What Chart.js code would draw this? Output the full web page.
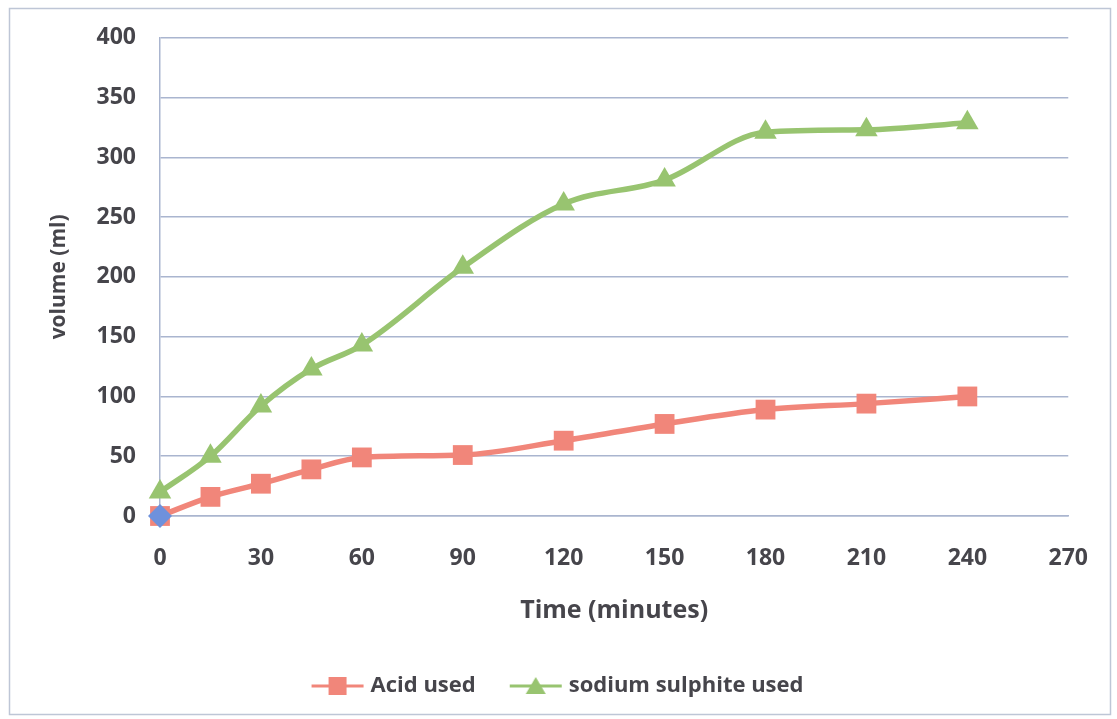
<!DOCTYPE html>
<html>
<head>
<meta charset="utf-8">
<script src="https://cdn.jsdelivr.net/npm/chart.js@4.4.1/dist/chart.umd.min.js"></script>
<style>
  html, body { margin: 0; padding: 0; background: #fff; }
  #wrap { width: 1117px; height: 719px; }
</style>
</head>
<body>
<div id="wrap"><canvas id="myChart" width="1117" height="719"></canvas></div>
<script>
// time in minutes and volumes (ml)
var times = [0, 15, 30, 45, 60, 90, 120, 150, 180, 210, 240];
var acidUsed = [0, 16, 27, 39, 49, 51, 63, 77, 89, 94, 100];
var sulphiteUsed = [20, 50, 92, 123, 143, 208, 261, 281, 321, 323, 329];
var originX = [0];
var originY = [0];
var xTicks = [0, 30, 60, 90, 120, 150, 180, 210, 240, 270];

var acidColor = 'rgb(241, 134, 122)';
var greenColor = 'rgb(152, 196, 112)';
var gridColor = 'rgb(170, 181, 207)';
var textColor = '#46454b';
var fontName = "'Open Sans', Lato, sans-serif";

function toPoints(xs, ys) {
    return xs.map(function (x, i) { return { x: x, y: ys[i] }; });
}

// legend picture: line with marker, drawn on the right part of a wider canvas
function legendIcon(color, shape) {
    var c = document.createElement('canvas');
    c.width = 74; c.height = 22;
    var g = c.getContext('2d');
    var x0 = 20;
    g.strokeStyle = color;
    g.lineWidth = 3;
    g.beginPath(); g.moveTo(x0, 11); g.lineTo(x0 + 52, 11); g.stroke();
    g.fillStyle = color;
    if (shape === 'rect') {
        g.fillRect(x0 + 17, 2, 18, 18);
    } else {
        g.beginPath(); g.moveTo(x0 + 26, 2); g.lineTo(x0 + 36, 19); g.lineTo(x0 + 16, 19); g.closePath(); g.fill();
    }
    return c;
}

var data = {
    datasets: [{
        label: 'Acid used',
        data: toPoints(times, acidUsed),
        borderColor: acidColor,
        backgroundColor: acidColor,
        borderWidth: 5.5,
        showLine: true,
        clip: false,
        pointStyle: 'rect',
        pointRadius: 14,
        pointBorderWidth: 0,
        cubicInterpolationMode: 'monotone',
        legendIcon: legendIcon(acidColor, 'rect')
    }, {
        label: 'sodium sulphite used',
        data: toPoints(times, sulphiteUsed),
        borderColor: greenColor,
        backgroundColor: greenColor,
        borderWidth: 5.5,
        showLine: true,
        clip: false,
        pointStyle: 'triangle',
        pointRadius: 13,
        pointBorderWidth: 0,
        cubicInterpolationMode: 'monotone',
        legendIcon: legendIcon(greenColor, 'tri')
    }, {
        label: 'origin',
        data: toPoints(originX, originY),
        borderColor: 'rgb(110, 145, 220)',
        backgroundColor: 'rgb(110, 145, 220)',
        clip: false,
        order: -1,
        pointStyle: 'rectRot',
        pointRadius: 12,
        pointBorderWidth: 0,
        showLine: false
    }]
};

var framePlugin = {
    id: 'frame',
    beforeDraw: function (chart) {
        var ctx = chart.ctx;
        ctx.save();
        ctx.fillStyle = '#ffffff';
        ctx.fillRect(0, 0, chart.width, chart.height);
        ctx.strokeStyle = 'rgb(190, 198, 214)';
        ctx.lineWidth = 1.5;
        ctx.strokeRect(9.5, 8.5, 1101, 706);
        ctx.restore();
    }
};

var ctx = document.getElementById('myChart').getContext('2d');
var myChart = new Chart(ctx, {
    type: 'scatter',
    data: data,
    plugins: [framePlugin],
    options: {
        responsive: false,
        animation: false,
        layout: { padding: { left: 20, right: 36, top: 25, bottom: 12 } },
        plugins: {
            tooltip: { enabled: false },
            legend: {
                position: 'bottom',
                labels: {
                    font: { family: fontName, size: 22, weight: 'bold' },
                    color: textColor,
                    usePointStyle: true,
                    pointStyleWidth: 62,
                    padding: 20,
                    generateLabels: function (chart) {
                        return chart.data.datasets.slice(0, 2).map(function (ds, i) {
                            return {
                                text: ds.label,
                                pointStyle: ds.legendIcon,
                                fillStyle: ds.backgroundColor,
                                strokeStyle: ds.borderColor,
                                lineWidth: 0,
                                fontColor: textColor,
                                hidden: false,
                                datasetIndex: i
                            };
                        });
                    }
                }
            }
        },
        scales: {
            x: {
                type: 'linear',
                min: 0,
                max: 270,
                afterBuildTicks: function (scale) {
                    scale.ticks = xTicks.map(function (v) { return { value: v }; });
                },
                afterFit: function (scale) { scale.height = 139; },
                grid: { display: false, drawTicks: false },
                border: { display: true, color: gridColor, width: 1.5 },
                ticks: {
                    padding: 29,
                    color: textColor,
                    font: { family: fontName, size: 23, weight: 'bold' },
                    maxRotation: 0
                },
                title: {
                    display: true,
                    text: 'Time (minutes)',
                    color: textColor,
                    font: { family: fontName, size: 25, weight: 'bold' },
                    padding: { top: 0, bottom: 29 }
                }
            },
            y: {
                min: 0,
                max: 400,
                ticks: {
                    stepSize: 50,
                    padding: 24,
                    color: textColor,
                    font: { family: fontName, size: 23, weight: 'bold' }
                },
                afterFit: function (scale) { scale.width = 140; },
                grid: { color: gridColor, lineWidth: 1.5, drawTicks: false },
                border: { display: true, color: gridColor, width: 1.5 },
                title: {
                    display: true,
                    text: 'volume (ml)',
                    color: textColor,
                    font: { family: fontName, size: 21, weight: 'bold' },
                    padding: { top: 26, bottom: 0 }
                }
            }
        }
    }
});
</script>
</body>
</html>
